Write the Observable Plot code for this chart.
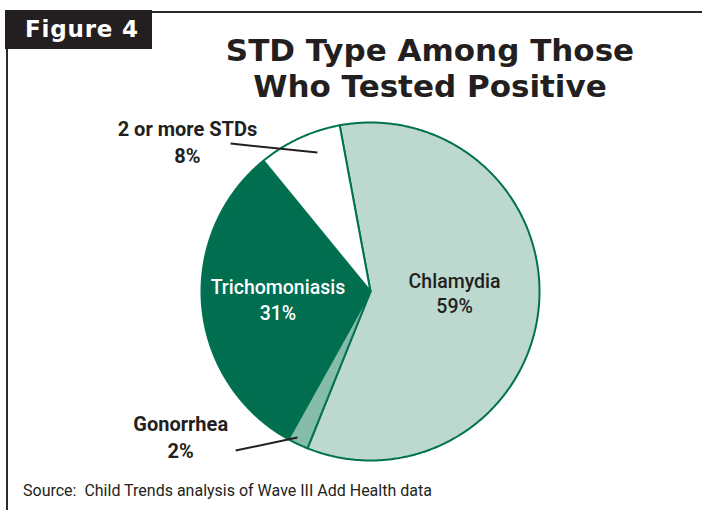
<!DOCTYPE html>
<html>
<head>
<meta charset="utf-8">
<script src="https://cdn.jsdelivr.net/npm/d3@7"></script>
<script src="https://cdn.jsdelivr.net/npm/@observablehq/plot@0.6"></script>
<style>
  body { margin: 0; background: #fff; }
  #wrap { position: relative; width: 702px; height: 510px; overflow: hidden; background: #fff; }
  #chart svg { position: absolute; left: 0; top: 0; }
  .frame-top { position: absolute; left: 150px; top: 11px; width: 560px; height: 2px; background: #2b2b2b; }
  .frame-left { position: absolute; left: 6px; top: 40px; width: 2px; height: 480px; background: #2b2b2b; }
  .fig { position: absolute; left: 5px; top: 10px; width: 147px; height: 39px; background: #231f20; color: #fff;
         font: bold 23px "DejaVu Sans", sans-serif; line-height: 39px; text-indent: 20px; letter-spacing: 0.8px; }
  .title { position: absolute; left: 130px; width: 600px; text-align: center; color: #231f20;
           font: bold 31px "DejaVu Sans", sans-serif; line-height: 36px; height: 36px; white-space: nowrap; }
  .t1 { top: 32px; }
  .t2 { top: 68px; }
  .source { position: absolute; left: 23px; top: 481px; color: #231f20;
            font: 16px "Liberation Sans Narrow", "Roboto", sans-serif; }
</style>
</head>
<body>
<div id="wrap">
  <div id="chart"></div>
  <div class="frame-top"></div>
  <div class="frame-left"></div>
  <div class="fig">Figure 4</div>
  <div class="title t1">STD Type Among Those</div>
  <div class="title t2">Who Tested Positive</div>
  <div class="source">Source:&nbsp; Child Trends analysis of Wave III Add Health data</div>
</div>
<script>
// ---- data ----
const categories = ["Chlamydia", "Gonorrhea", "Trichomoniasis", "2 or more STDs"];
const percents = [59, 2, 31, 8];
const percentLabels = ["59%", "2%", "31%", "8%"];

// ---- styling (not data) ----
const sliceColors = ["#bcd8cf", "#86bcaa", "#006e4f", "#ffffff"];
const edgeColor = "#00724f";
const startDeg = -10.5;

const total = d3.sum(percents);
let acc = 0;
const slices = categories.map((c, i) => {
  const a0 = startDeg + (acc / total) * 360;
  acc += percents[i];
  const a1 = startDeg + (acc / total) * 360;
  return { category: c, value: percents[i], label: percentLabels[i], a0, a1, mid: (a0 + a1) / 2 };
});
const rad = (deg) => (deg * Math.PI) / 180;
const polar = (r, deg) => ({ x: r * Math.sin(rad(deg)), y: -r * Math.cos(rad(deg)) });

// outline points of each slice (center + arc), derived from the values above
const outline = slices.flatMap((s) => {
  const pts = [{ category: s.category, x: 0, y: 0 }];
  const n = Math.max(2, Math.ceil((s.a1 - s.a0) / 0.5));
  for (let k = 0; k <= n; k++) {
    const p = polar(1, s.a0 + ((s.a1 - s.a0) * k) / n);
    pts.push({ category: s.category, ...p });
  }
  return pts;
});

// label placement relative to each slice (annotation layout)
const inside = {
  "Chlamydia": { r: 0.5, shift: -0.045, fill: "#231f20" },
  "Trichomoniasis": { r: 0.55, shift: -0.005, fill: "#ffffff" }
};
const outside = {
  "2 or more STDs": { r: 1.404, deg: -50.5, lead: [[0.88, -20.9], [1.205, -43.4]] },
  "Gonorrhea": { r: 1.41, deg: 232.8, lead: [[0.966, 206.6], [1.234, 220.3]] }
};

const insideLabels = slices.filter((s) => inside[s.category]).map((s) => {
  const p = polar(inside[s.category].r, s.mid);
  return { ...s, x: p.x, y: p.y + inside[s.category].shift, text: s.category + "\n" + s.label, color: inside[s.category].fill };
});
const outsideLabels = slices.filter((s) => outside[s.category]).map((s) => ({
  ...s, ...polar(outside[s.category].r, outside[s.category].deg), text: s.category + "\n" + s.label
}));
const leaders = slices.filter((s) => outside[s.category]).map((s) => {
  const [p1, p2] = outside[s.category].lead.map(([r, d]) => polar(r, d));
  return { category: s.category, x1: p1.x, y1: p1.y, x2: p2.x, y2: p2.y };
});

const chart = Plot.plot({
  width: 702,
  height: 510,
  x: { domain: [-1, 1], range: [201, 539], axis: null },
  y: { domain: [-1, 1], range: [122, 460], axis: null },
  color: { domain: categories, range: sliceColors },
  style: { background: "transparent" },
  marks: [
    Plot.line(outline, {
      x: "x", y: "y", z: "category", fill: "category",
      stroke: edgeColor, strokeWidth: 2, strokeLinejoin: "round", curve: "linear-closed"
    }),
    Plot.link(leaders, { x1: "x1", y1: "y1", x2: "x2", y2: "y2", stroke: "#231f20", strokeWidth: 2 }),
    Plot.text(insideLabels, {
      x: "x", y: "y", text: "text", fill: "color", fontSize: 19.5, fontWeight: 500,
      fontFamily: "Roboto, sans-serif", lineHeight: 1.3
    }),
    Plot.text(outsideLabels, {
      x: "x", y: "y", text: "text", fill: "#231f20", fontSize: 20, fontWeight: "bold",
      fontFamily: "Roboto, sans-serif", lineHeight: 1.35
    })
  ]
});
document.getElementById("chart").append(chart);
</script>
</body>
</html>
